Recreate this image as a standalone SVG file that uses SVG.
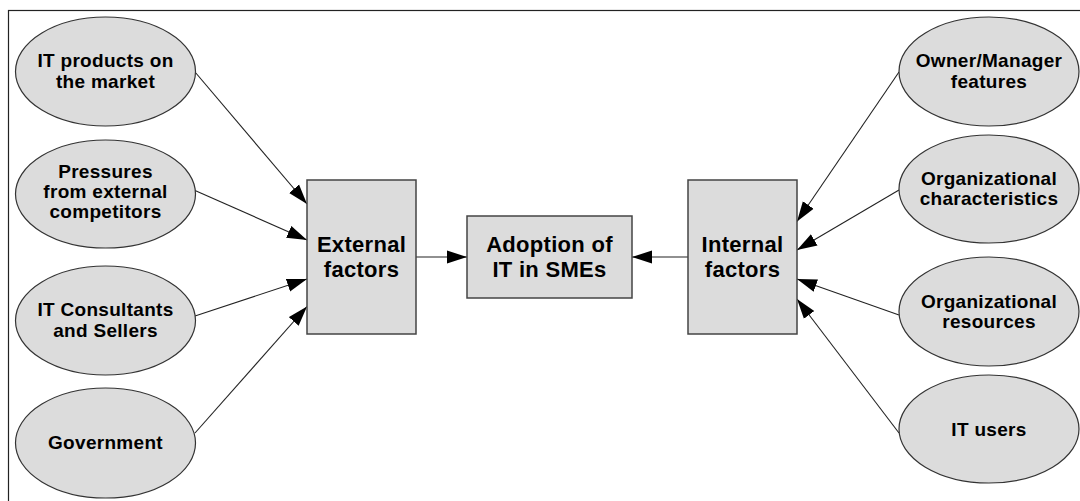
<svg xmlns="http://www.w3.org/2000/svg" width="1080" height="501" viewBox="0 0 1080 501">
<style>
.ell{fill:#dcdcdc;stroke:#333;stroke-width:1.2}
.box{fill:#dcdcdc;stroke:#444;stroke-width:1.5}
.t{font-family:"Liberation Sans",Arial,sans-serif;font-weight:bold;font-size:19px;fill:#000;text-anchor:middle;letter-spacing:0.3px}
.tb{font-family:"Liberation Sans",Arial,sans-serif;font-weight:bold;font-size:22px;fill:#000;text-anchor:middle;letter-spacing:0.3px}
.c{stroke:#222;stroke-width:1.1;fill:none;marker-end:url(#ah)}
</style>
<defs>
<marker id="ah" markerUnits="userSpaceOnUse" markerWidth="20" markerHeight="14" refX="20" refY="7" orient="auto">
<path d="M0,0.5 L20,7 L0,13.5 z" fill="#000"/>
</marker>
</defs>
<rect width="1080" height="501" fill="#fff"/>
<rect x="8.5" y="10.5" width="1200" height="600" fill="none" stroke="#222" stroke-width="1.2"/>

<g id="connectors">
<line class="c" x1="195" y1="72" x2="307" y2="204"/>
<line class="c" x1="195" y1="190.5" x2="307" y2="240"/>
<line class="c" x1="195" y1="316" x2="307" y2="279"/>
<line class="c" x1="195" y1="433" x2="307" y2="306.5"/>
<line class="c" x1="899" y1="72" x2="797" y2="221.5"/>
<line class="c" x1="899" y1="190" x2="797" y2="250"/>
<line class="c" x1="899" y1="315" x2="797" y2="279"/>
<line class="c" x1="899" y1="433" x2="797" y2="299"/>
<line class="c" x1="416" y1="257" x2="467" y2="257"/>
<line class="c" x1="688" y1="257" x2="632" y2="257"/>
</g>

<g id="n-it-products">
<ellipse class="ell" cx="105.5" cy="71.5" rx="90" ry="54.5"/>
<text class="t" x="105.5" y="67">IT products on</text>
<text class="t" x="105.5" y="87.5">the market</text>
</g>
<g id="n-pressures">
<ellipse class="ell" cx="105.5" cy="194" rx="90" ry="54"/>
<text class="t" x="105.5" y="177.5">Pressures</text>
<text class="t" x="105.5" y="198">from external</text>
<text class="t" x="105.5" y="218">competitors</text>
</g>
<g id="n-consultants">
<ellipse class="ell" cx="105.5" cy="320.5" rx="90" ry="54.5"/>
<text class="t" x="105.5" y="316">IT Consultants</text>
<text class="t" x="105.5" y="336.5">and Sellers</text>
</g>
<g id="n-government">
<ellipse class="ell" cx="105.5" cy="443" rx="90" ry="55"/>
<text class="t" x="105.5" y="448.5">Government</text>
</g>

<g id="n-external">
<rect class="box" x="307" y="180" width="109" height="154"/>
<text class="tb" x="361.5" y="251.5">External</text>
<text class="tb" x="361.5" y="276.5">factors</text>
</g>
<g id="n-adoption">
<rect class="box" x="467" y="216" width="165" height="82"/>
<text class="tb" x="549.5" y="251.5">Adoption of</text>
<text class="tb" x="549.5" y="276.5">IT in SMEs</text>
</g>
<g id="n-internal">
<rect class="box" x="688" y="180" width="109" height="154"/>
<text class="tb" x="742.5" y="251.5">Internal</text>
<text class="tb" x="742.5" y="276.5">factors</text>
</g>

<g id="n-owner">
<ellipse class="ell" cx="989" cy="71.5" rx="90" ry="54.5"/>
<text class="t" x="989" y="67">Owner/Manager</text>
<text class="t" x="989" y="87.5">features</text>
</g>
<g id="n-org-char">
<ellipse class="ell" cx="989" cy="189" rx="90" ry="54"/>
<text class="t" x="989" y="185">Organizational</text>
<text class="t" x="989" y="205">characteristics</text>
</g>
<g id="n-org-res">
<ellipse class="ell" cx="989" cy="311.5" rx="90" ry="54.5"/>
<text class="t" x="989" y="308">Organizational</text>
<text class="t" x="989" y="328">resources</text>
</g>
<g id="n-it-users">
<ellipse class="ell" cx="989" cy="429" rx="90" ry="54"/>
<text class="t" x="989" y="436">IT users</text>
</g>
</svg>
